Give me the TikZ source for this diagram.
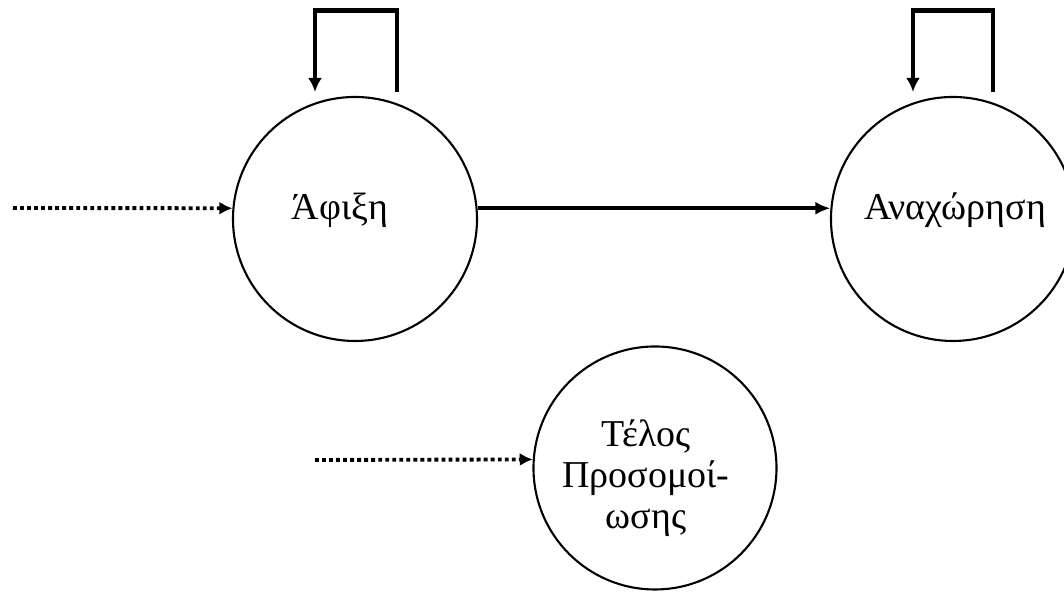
\documentclass[tikz,border=0pt]{standalone}
\usepackage{fontspec}
\setmainfont{Liberation Serif}
\usetikzlibrary{arrows.meta}
\begin{document}
\begin{tikzpicture}[
	state/.style={draw,circle,line width=0.6pt,minimum size=2.44cm,inner sep=0pt},
	statetext/.style={font=\fontsize{10.8}{11.7}\selectfont,align=center,inner sep=0pt},
	selfloop/.style={line width=1.4pt,-{Latex[length=1.4mm,width=1.4mm]}},
	flow/.style={line width=1.1pt,-{Latex[length=1.5mm,width=1.3mm]}},
	entry/.style={line width=1.1pt,dash pattern=on 1.1pt off 0.9pt,-{Latex[length=1.3mm,width=1.3mm]}}]
	\useasboundingbox (0,0) rectangle (10.64,5.93);
	\node[state] (arr) at (3.55,3.74) {};
	\node[state] (dep) at (9.53,3.74) {};
	\node[state,minimum size=2.43cm] (end) at (6.55,1.25) {};
	\node[statetext] (arrtxt) at (3.40,3.83) {Άφιξη};
	\node[statetext] (deptxt) at (9.55,3.83) {Αναχώρηση};
	\node[statetext] (endtxt) at (6.46,1.15) {Τέλος\\Προσομοί-\\ωσης};
	\coordinate (arrin) at (0.13,3.85);
	\coordinate (endin) at (3.15,1.33);
	\draw[entry] (arrin) -- (arr.175);
	\draw[entry] (endin) -- (end.176);
	\draw[flow] (arr.5) -- (dep.175);
	\draw[selfloop] (arr.north) ++(0.42,0.04) -- ++(0,0.81) -| ++(-0.82,-0.81);
	\draw[selfloop] (dep.north) ++(0.40,0.04) -- ++(0,0.81) -| ++(-0.80,-0.81);
\end{tikzpicture}
\end{document}
